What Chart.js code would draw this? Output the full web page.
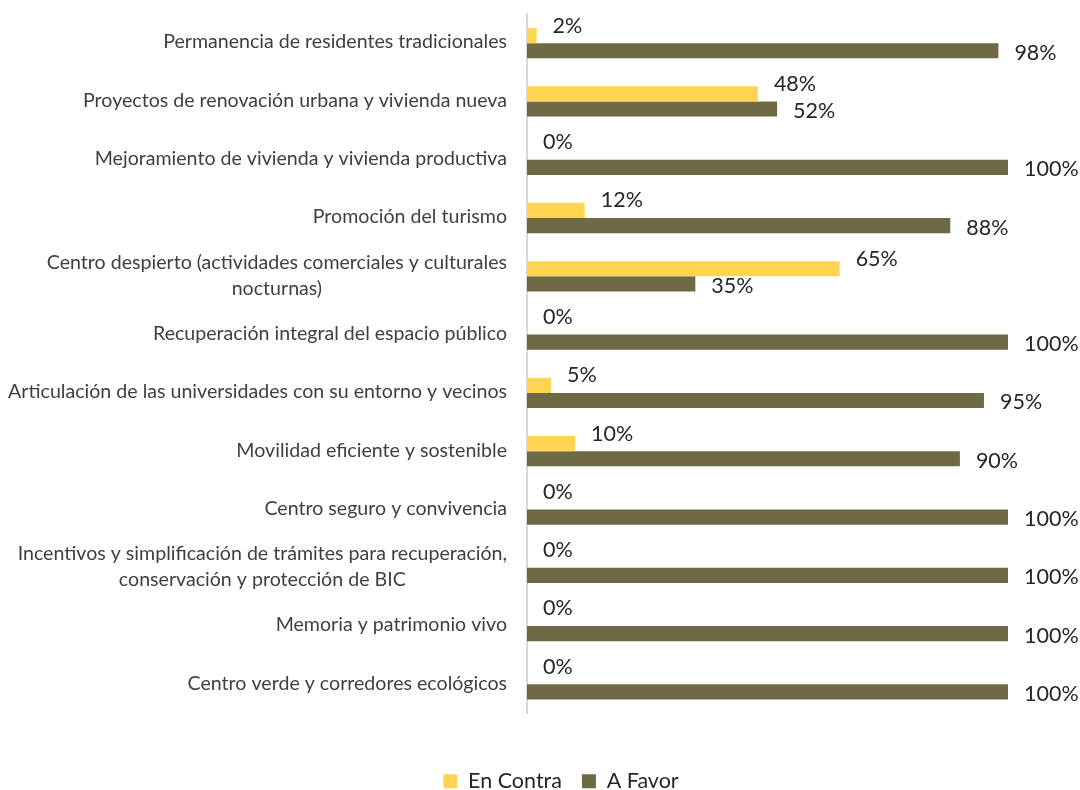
<!DOCTYPE html>
<html>
<head>
<meta charset="utf-8">
<script src="https://cdn.jsdelivr.net/npm/chart.js@4/dist/chart.umd.min.js"></script>
<style>
  html, body { margin: 0; padding: 0; background: #fff; }
  #wrap { width: 1080px; height: 790px; }
</style>
</head>
<body>
<div id="wrap"><canvas id="chart"></canvas></div>
<script>
const categories = [
  'Permanencia de residentes tradicionales',
  'Proyectos de renovación urbana y vivienda nueva',
  'Mejoramiento de vivienda y vivienda productiva',
  'Promoción del turismo',
  ['Centro despierto (actividades comerciales y culturales', 'nocturnas)'],
  'Recuperación integral del espacio público',
  'Articulación de las universidades con su entorno y vecinos',
  'Movilidad eficiente y sostenible',
  'Centro seguro y convivencia',
  ['Incentivos y simplificación de trámites para recuperación,', 'conservación y protección de BIC'],
  'Memoria y patrimonio vivo',
  'Centro verde y corredores ecológicos'
];
const enContra = [2, 48, 0, 12, 65, 0, 5, 10, 0, 0, 0, 0];
const aFavor = [98, 52, 100, 88, 35, 100, 95, 90, 100, 100, 100, 100];

const FONT = 'Lato, "Open Sans", sans-serif';

// category labels: right aligned block, extra lines centred under the first
const catLabels = {
  id: 'catLabels',
  afterDraw(chart) {
    const ctx = chart.ctx;
    const y = chart.scales.y;
    const right = chart.chartArea.left - 20;
    ctx.save();
    ctx.font = '19.6px ' + FONT;
    ctx.fillStyle = '#404040';
    ctx.textBaseline = 'middle';
    ctx.textAlign = 'center';
    categories.forEach((lab, i) => {
      const lines = Array.isArray(lab) ? lab : [lab];
      const w = Math.max(...lines.map(l => ctx.measureText(l).width));
      const cx = right - w / 2;
      const cy = y.getPixelForTick(i) - 1 - (lines.length - 1) * 13;
      lines.forEach((l, k) => ctx.fillText(l, cx, cy + k * 26));
    });
    ctx.restore();
  }
};

// value labels after each bar end
const valueLabels = {
  id: 'valueLabels',
  afterDatasetsDraw(chart) {
    const ctx = chart.ctx;
    ctx.save();
    ctx.font = '21.5px ' + FONT;
    ctx.fillStyle = '#262626';
    ctx.textBaseline = 'middle';
    ctx.textAlign = 'left';
    chart.data.datasets.forEach((ds, d) => {
      chart.getDatasetMeta(d).data.forEach((bar, i) => {
        const dy = d === 0 ? -10 : 2;
        ctx.fillText(ds.data[i] + '%', bar.x + 16, bar.y + dy);
      });
    });
    ctx.restore();
  }
};

new Chart(document.getElementById('chart'), {
  type: 'bar',
  data: {
    labels: categories,
    datasets: [
      { label: 'En Contra', data: enContra, backgroundColor: '#FFD450', categoryPercentage: 0.52, barPercentage: 1.0 },
      { label: 'A Favor', data: aFavor, backgroundColor: '#6E6A46', categoryPercentage: 0.52, barPercentage: 1.0 }
    ]
  },
  options: {
    indexAxis: 'y',
    responsive: true,
    maintainAspectRatio: false,
    animation: false,
    layout: { padding: { left: 114, right: 72, top: 14, bottom: -12 } },
    scales: {
      x: {
        min: 0, max: 100,
        grid: { display: false },
        border: { display: false },
        ticks: { display: false },
        afterFit(s) { s.height = 37; }
      },
      y: {
        grid: { display: false },
        border: { display: true, color: '#d9d9d9', width: 2 },
        ticks: { display: false },
        afterFit(s) { s.width = 413; }
      }
    },
    plugins: {
      legend: {
        position: 'bottom',
        labels: { font: { family: FONT, size: 21.5 }, color: '#262626', boxWidth: 14, boxHeight: 14, padding: 20 }
      },
      tooltip: { enabled: false }
    }
  },
  plugins: [catLabels, valueLabels]
});
</script>
</body>
</html>
